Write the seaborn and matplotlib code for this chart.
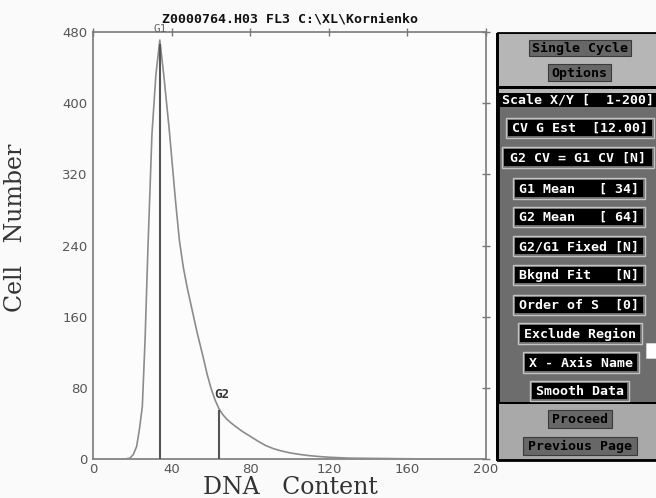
import numpy as np
import pandas as pd
import seaborn as sns
import matplotlib.pyplot as plt
from matplotlib.patches import Rectangle


# histogram
dna_content = [16, 18.8, 20.5, 22.2, 23.6, 25.1, 26.5, 28, 30, 32, 34, 36, 38.8,
               42, 44, 46, 48, 50, 53, 56, 58, 60, 62, 64, 66, 68, 70, 72, 76,
               80, 84, 88, 92, 96, 100, 105, 110, 115, 120, 130, 150, 172]
cell_number = [0, 1, 5, 14, 33, 59, 134, 240, 365, 432, 471, 432, 370,
               290, 245, 215, 192, 172, 142, 115, 96, 80, 67, 57, 50, 45, 41,
               37.5, 31, 25.5, 20, 15, 11.5, 9, 7, 5.2, 3.8, 2.8, 2, 1, 0.5, 0]

peak_names = ["G1", "G2"]
peak_pos = [34, 64]
peak_height = [467, 55]

x_ticks = [0, 40, 80, 120, 160, 200]
y_ticks = [0, 80, 160, 240, 320, 400, 480]

title = "Z0000764.H03 FL3 C:\\XL\\Kornienko"

# side panel: label, top, bottom, left, right (figure pixels), style
panel_buttons = [
    ("Single Cycle", 40, 56, 529, 631, "grey"),
    ("Options", 64, 81, 548, 611, "grey"),
    ("CV G Est  [12.00]", 120, 136, 508, 652, "black"),
    ("G2 CV = G1 CV [N]", 149, 166, 504, 652, "black"),
    ("G1 Mean   [ 34]", 180, 197, 515, 643, "black"),
    ("G2 Mean   [ 64]", 209, 225, 515, 643, "black"),
    ("G2/G1 Fixed [N]", 238, 254, 515, 643, "black"),
    ("Bkgnd Fit   [N]", 267, 283, 515, 643, "black"),
    ("Order of S  [0]", 297, 313, 515, 643, "black"),
    ("Exclude Region", 325, 342, 520, 640, "black"),
    ("X - Axis Name", 354, 371, 525, 637, "black"),
    ("Smooth Data", 383, 399, 532, 627, "black"),
    ("Proceed", 410, 428, 548, 612, "grey"),
    ("Previous Page", 437, 455, 523, 637, "grey"),
]
scale_label = "Scale X/Y [  1-200]"

W, H = 656, 498
sns.set_style("white")
plt.rcParams['font.family'] = ['DejaVu Sans']

fig = plt.figure(figsize=(W / 100, H / 100), dpi=100)
fig.patch.set_facecolor("#fafafa")
ax = fig.add_axes([93 / W, 39 / H, 393 / W, 427 / H])
ax.set_facecolor("#fcfcfc")

df = pd.DataFrame({"dna": dna_content, "cells": cell_number})
sns.lineplot(data=df, x="dna", y="cells", ax=ax, color="#8c8c8c", lw=1.2,
             zorder=3)
ax.vlines(peak_pos, 0, peak_height, color="#555555", lw=1.5, zorder=4)
ax.text(peak_pos[0], 483, peak_names[0], ha="center", va="center",
        fontsize=8, color="#666666", family="DejaVu Sans Mono", zorder=5)
ax.text(peak_pos[1] + 1.5, 72, peak_names[1], ha="center", va="center",
        fontsize=9, color="#333333", fontweight="bold",
        family="DejaVu Sans Mono", zorder=5)

ax.set_xlim(0, 200)
ax.set_ylim(0, 480)
ax.set_xticks(x_ticks)
ax.set_yticks(y_ticks)
ax.tick_params(axis="both", direction="inout", length=6, width=1,
               color="#777777", labelsize=9.5, labelcolor="#555555", pad=1,
               top=True, right=True)
ax.tick_params(axis="x", pad=0)
for spine in ax.spines.values():
    spine.set_color("#7a7a7a")
    spine.set_linewidth(1.2)
ax.set_xlabel("")
ax.set_ylabel("")

fig.text(290 / W, 1 - 19 / H, title, ha="center", va="center", fontsize=9.5,
         fontweight="bold", family="DejaVu Sans Mono", color="#111111")
fig.text(16 / W, 1 - 228 / H, "Cell   Number", rotation=90, ha="center",
         va="center", fontsize=17, family="DejaVu Serif", color="#333333")
fig.text(290 / W, 1 - 487 / H, "DNA   Content", ha="center", va="center",
         fontsize=17, family="DejaVu Serif", color="#333333")

# side panel drawn in pixel coordinates
pax = fig.add_axes([0, 0, 1, 1], zorder=10)
pax.set_xlim(0, W)
pax.set_ylim(H, 0)
pax.axis("off")
pax.patch.set_alpha(0)

pax.add_patch(Rectangle((498, 33), 160, 427, fc="#6d6d6d", ec="black", lw=2))
pax.add_patch(Rectangle((499, 34), 158, 52, fc="#b6b6b6", ec="none"))
pax.add_patch(Rectangle((499, 86), 158, 3, fc="black", ec="none"))
pax.add_patch(Rectangle((499, 89), 158, 4, fc="#b6b6b6", ec="none"))
pax.add_patch(Rectangle((499, 93), 158, 14, fc="black", ec="none"))
pax.add_patch(Rectangle((499, 402), 158, 2, fc="black", ec="none"))
pax.add_patch(Rectangle((499, 404), 158, 55, fc="#a9a9a9", ec="none"))
pax.add_patch(Rectangle((496, 33), 3, 428, fc="black", ec="none"))
pax.text(502, 100, scale_label, ha="left", va="center", fontsize=9.5,
         fontweight="bold", family="DejaVu Sans Mono", color="white")

for label, top, bottom, left, right, style in panel_buttons:
    if style == "black":
        pax.add_patch(Rectangle((left - 2, top - 2), right - left + 4,
                                bottom - top + 4, fc="none", ec="#c4c4c4",
                                lw=1))
        pax.add_patch(Rectangle((left, top), right - left, bottom - top,
                                fc="black", ec="none"))
        txt_color = "white"
    else:
        pax.add_patch(Rectangle((left, top), right - left, bottom - top,
                                fc="#676767", ec="#3a3a3a", lw=0.8))
        txt_color = "black"
    pax.text((left + right) / 2, (top + bottom) / 2 + 0.5, label,
             ha="center", va="center", fontsize=9.5, fontweight="bold",
             family="DejaVu Sans Mono", color=txt_color)

pax.add_patch(Rectangle((646, 343), 12, 15, fc="white", ec="#dddddd", lw=0.5))

fig.savefig("out.png", dpi=100, facecolor=fig.get_facecolor())
